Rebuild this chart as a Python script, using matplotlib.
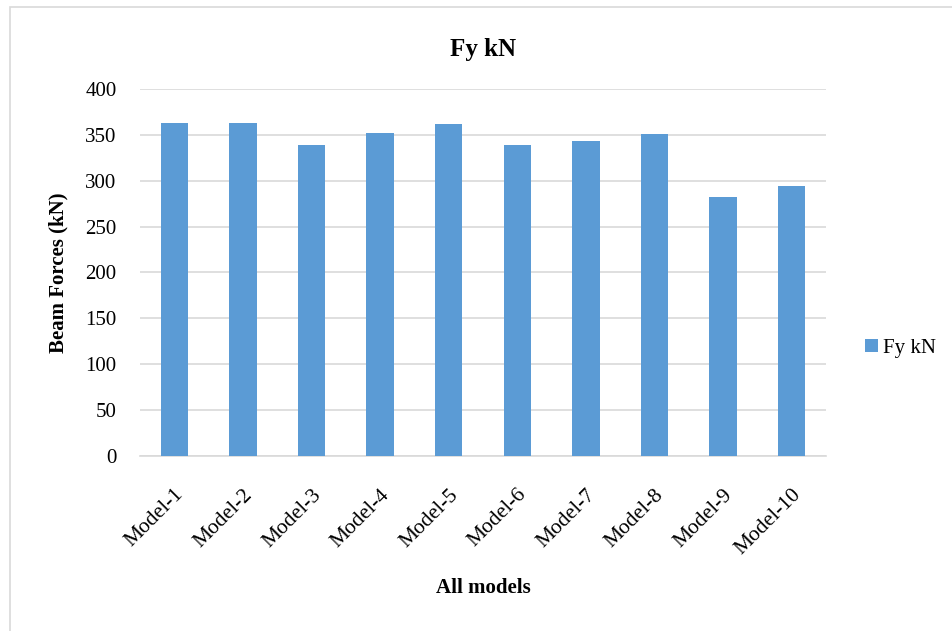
import matplotlib.pyplot as plt
from matplotlib.patches import Rectangle

plt.rcParams['font.family'] = ['Liberation Serif', 'DejaVu Serif']

models = ["Model-1", "Model-2", "Model-3", "Model-4", "Model-5",
          "Model-6", "Model-7", "Model-8", "Model-9", "Model-10"]
fy_kn = [363, 362.5, 338.5, 352.5, 361.5, 338.5, 343, 350.5, 282.5, 294]
yticks = [0, 50, 100, 150, 200, 250, 300, 350, 400]

fig = plt.figure(figsize=(9.52, 6.31), dpi=100)
ax = fig.add_axes([0.1471, 0.2773, 0.7205, 0.5817])

# chart frame
fig.patches.append(Rectangle((0.0105, -0.01), 1.0, 0.9985, transform=fig.transFigure,
                             fill=False, edgecolor='#D9D9D9', linewidth=1.2))

x = range(len(models))
ax.bar(x, fy_kn, width=0.4, color='#5B9BD5', label='Fy kN', zorder=3)

ax.set_xlim(-0.5, len(models) - 0.5)
ax.set_ylim(0, 400)
ax.set_yticks(yticks)
ax.yaxis.grid(True, color='#D9D9D9', linewidth=1.2, zorder=0)
for s in ['top', 'right', 'left']:
    ax.spines[s].set_visible(False)
ax.spines['bottom'].set_color('#D9D9D9')
ax.spines['bottom'].set_linewidth(1.2)
ax.tick_params(axis='both', length=0, labelsize=15)
ax.tick_params(axis='y', pad=17)
ax.set_xticks(list(x))
ax.set_xticklabels(models, rotation=45, ha='right', rotation_mode='anchor')
ax.tick_params(axis='x', pad=21, labelsize=15.5)

ax.set_title('Fy kN', fontsize=18, fontweight='bold', pad=24)
ax.set_ylabel('Beam Forces (kN)', fontsize=15, fontweight='bold', labelpad=12)
ax.set_xlabel('All models', fontsize=15, fontweight='bold', labelpad=14)

ax.legend(loc='center left', bbox_to_anchor=(1.03, 0.294), frameon=False,
          fontsize=15, handlelength=0.6, handleheight=0.6, handletextpad=0.25)

fig.savefig('out.png', dpi=100)
